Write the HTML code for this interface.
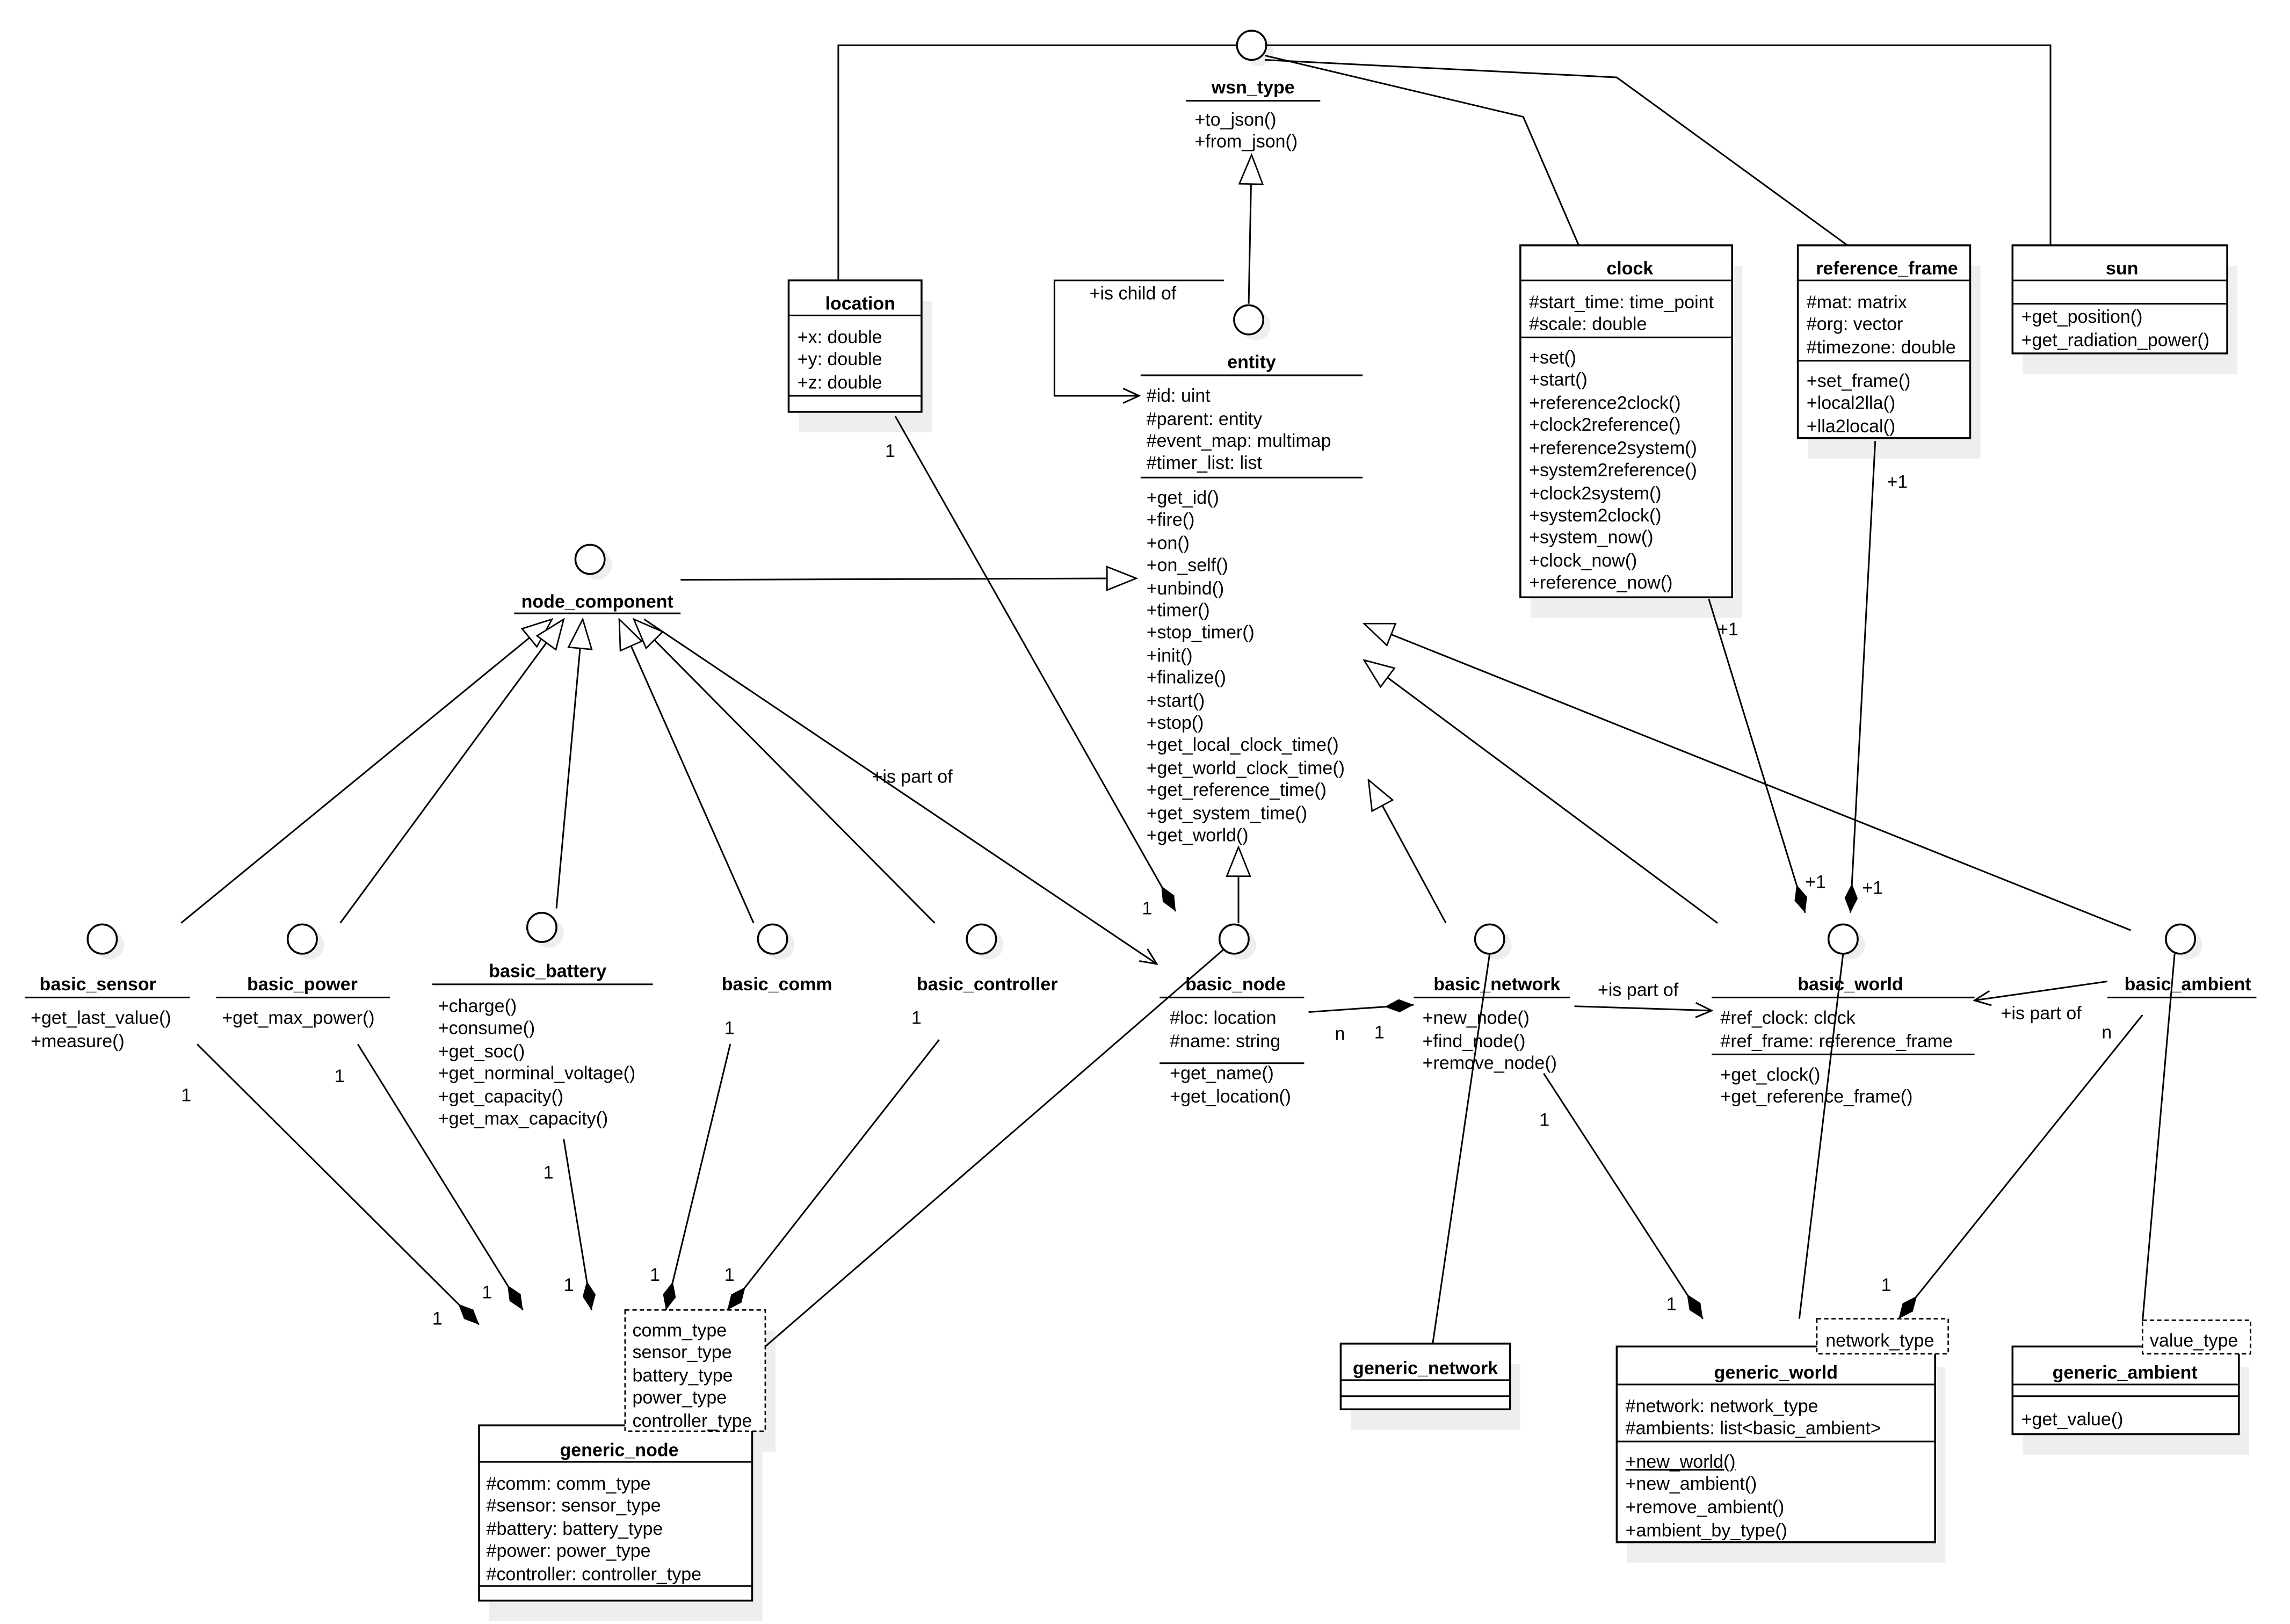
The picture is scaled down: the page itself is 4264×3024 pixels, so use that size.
<!DOCTYPE html>
<html><head><meta charset="utf-8"><style>
html,body{margin:0;padding:0;background:#fff;}
svg{display:block;}
text{font-family:"Liberation Sans",Arial,sans-serif;font-size:12.5px;fill:#000;}
.b{font-weight:bold;text-anchor:middle;}
.l{stroke:#000;stroke-width:1.1;fill:none;}
.box{fill:#fff;stroke:#000;stroke-width:1.3;}
.sh{fill:#eeeeee;}
.dash{fill:#fff;stroke:#000;stroke-width:1;stroke-dasharray:3,2;}
</style></head><body>
<svg width="4264" height="3024" viewBox="0 0 1568 1112" preserveAspectRatio="none" xmlns="http://www.w3.org/2000/svg">
<defs>
<marker id="dm" viewBox="-1 -6 22 12" refX="20" refY="0" markerWidth="22" markerHeight="12" markerUnits="userSpaceOnUse" orient="auto"><path d="M0,0 L10,-4.5 L20,0 L10,4.5 z" fill="#000"/></marker>
<marker id="tr" viewBox="-1 -9 22 18" refX="20" refY="0" markerWidth="22" markerHeight="18" markerUnits="userSpaceOnUse" orient="auto"><path d="M0,-8 L20,0 L0,8 z" fill="#fff" stroke="#000" stroke-width="1"/></marker>
<marker id="ar" viewBox="-1 -6 13 12" refX="11" refY="0" markerWidth="13" markerHeight="12" markerUnits="userSpaceOnUse" orient="auto"><path d="M0,-5 L11,0 L0,5" fill="none" stroke="#000" stroke-width="1.1"/></marker>
</defs>

<!-- shadows -->
<g class="sh">
<rect x="547" y="206" width="91" height="90"/>
<rect x="1048" y="182" width="145" height="241"/>
<rect x="1238" y="182" width="118" height="132"/>
<rect x="1385" y="182" width="147" height="74"/>
<rect x="335" y="990" width="187" height="120"/>
<rect x="435" y="911" width="96" height="83"/>
<rect x="925" y="934" width="116" height="45"/>
<rect x="1114" y="936" width="218" height="134"/>
<rect x="1385" y="936" width="155" height="60"/>
<circle cx="862" cy="35" r="10"/><circle cx="860" cy="223" r="10"/><circle cx="409" cy="387" r="10"/>
<circle cx="75" cy="647" r="10"/><circle cx="212" cy="647" r="10"/><circle cx="376" cy="639" r="10"/><circle cx="534" cy="647" r="10"/><circle cx="677" cy="647" r="10"/><circle cx="850" cy="647" r="10"/><circle cx="1025" cy="647" r="10"/><circle cx="1267" cy="647" r="10"/><circle cx="1498" cy="647" r="10"/>
</g>

<!-- connectors -->
<g class="l">
<polyline points="847,31 574,31 574,192"/>
<polyline points="867,31 1404,31 1404,168"/>
<polyline points="866,38 1043,80 1081,168"/>
<polyline points="866,41 1107,53 1265,168"/>
<line x1="855" y1="208" x2="857" y2="106" marker-end="url(#tr)"/>
<polyline points="838,192 722,192 722,271 780,271" marker-end="url(#ar)"/>
<line x1="466" y1="397" x2="778" y2="396" marker-end="url(#tr)"/>
<line x1="124" y1="632" x2="378" y2="424" marker-end="url(#tr)"/>
<line x1="233" y1="632" x2="386" y2="424" marker-end="url(#tr)"/>
<line x1="381" y1="622" x2="399" y2="424" marker-end="url(#tr)"/>
<line x1="516" y1="632" x2="424" y2="424" marker-end="url(#tr)"/>
<line x1="640" y1="632" x2="434" y2="424" marker-end="url(#tr)"/>
<line x1="441" y1="424" x2="792" y2="660" marker-end="url(#ar)"/>
<line x1="848" y1="632" x2="848" y2="580" marker-end="url(#tr)"/>
<line x1="613" y1="285" x2="805" y2="624" marker-end="url(#dm)"/>
<line x1="990" y1="632" x2="937" y2="534" marker-end="url(#tr)"/>
<line x1="1176" y1="632" x2="934" y2="452" marker-end="url(#tr)"/>
<line x1="1459" y1="637" x2="934" y2="427" marker-end="url(#tr)"/>
<line x1="896" y1="693" x2="968" y2="688" marker-end="url(#dm)"/>
<line x1="1078" y1="689" x2="1172" y2="692" marker-end="url(#ar)"/>
<line x1="1443" y1="672" x2="1352" y2="685" marker-end="url(#ar)"/>
<line x1="1170" y1="410" x2="1236" y2="625" marker-end="url(#dm)"/>
<line x1="1284" y1="302" x2="1267" y2="625" marker-end="url(#dm)"/>
<line x1="1262" y1="653" x2="1232" y2="903"/>
<line x1="1020" y1="653" x2="981" y2="920"/>
<line x1="1489" y1="653" x2="1467" y2="905"/>
<line x1="1467" y1="695" x2="1300" y2="903" marker-end="url(#dm)"/>
<line x1="1057" y1="735" x2="1166" y2="903" marker-end="url(#dm)"/>
<line x1="838" y1="650" x2="524" y2="922"/>
<line x1="135" y1="715" x2="328" y2="907" marker-end="url(#dm)"/>
<line x1="245" y1="715" x2="358" y2="897" marker-end="url(#dm)"/>
<line x1="386" y1="780" x2="405" y2="897" marker-end="url(#dm)"/>
<line x1="500" y1="715" x2="456" y2="897" marker-end="url(#dm)"/>
<line x1="643" y1="712" x2="498" y2="897" marker-end="url(#dm)"/>
</g>

<!-- circles -->
<g fill="#fff" stroke="#000" stroke-width="1.3">
<circle cx="857" cy="31" r="10"/><circle cx="855" cy="219" r="10"/><circle cx="404" cy="383" r="10"/>
<circle cx="70" cy="643" r="10"/><circle cx="207" cy="643" r="10"/><circle cx="371" cy="635" r="10"/><circle cx="529" cy="643" r="10"/><circle cx="672" cy="643" r="10"/><circle cx="845" cy="643" r="10"/><circle cx="1020" cy="643" r="10"/><circle cx="1262" cy="643" r="10"/><circle cx="1493" cy="643" r="10"/>
</g>

<!-- interfaces -->
<text class="b" x="858" y="64">wsn_type</text><line class="l" x1="812" y1="69" x2="904" y2="69"/>
<text x="818" y="86">+to_json()</text><text x="818" y="101">+from_json()</text>

<text x="746" y="205">+is child of</text>
<text class="b" x="857" y="252">entity</text><line class="l" x1="781" y1="257" x2="933" y2="257"/>
<g>
<text x="785" y="275">#id: uint</text><text x="785" y="291">#parent: entity</text><text x="785" y="306">#event_map: multimap</text><text x="785" y="321">#timer_list: list</text>
</g>
<line class="l" x1="781" y1="327" x2="933" y2="327"/>
<g>
<text x="785" y="345">+get_id()</text><text x="785" y="360">+fire()</text><text x="785" y="376">+on()</text><text x="785" y="391">+on_self()</text><text x="785" y="407">+unbind()</text><text x="785" y="422">+timer()</text><text x="785" y="437">+stop_timer()</text><text x="785" y="453">+init()</text><text x="785" y="468">+finalize()</text><text x="785" y="484">+start()</text><text x="785" y="499">+stop()</text><text x="785" y="514">+get_local_clock_time()</text><text x="785" y="530">+get_world_clock_time()</text><text x="785" y="545">+get_reference_time()</text><text x="785" y="561">+get_system_time()</text><text x="785" y="576">+get_world()</text>
</g>

<text class="b" x="409" y="416">node_component</text><line class="l" x1="352" y1="420" x2="466" y2="420"/>
<text x="597" y="536">+is part of</text>

<text class="b" x="67" y="678">basic_sensor</text><line class="l" x1="17" y1="683" x2="130" y2="683"/>
<text x="21" y="701">+get_last_value()</text><text x="21" y="717">+measure()</text>
<text class="b" x="207" y="678">basic_power</text><line class="l" x1="148" y1="683" x2="267" y2="683"/>
<text x="152" y="701">+get_max_power()</text>
<text class="b" x="375" y="669">basic_battery</text><line class="l" x1="296" y1="674" x2="447" y2="674"/>
<text x="300" y="693">+charge()</text><text x="300" y="708">+consume()</text><text x="300" y="724">+get_soc()</text><text x="300" y="739">+get_norminal_voltage()</text><text x="300" y="755">+get_capacity()</text><text x="300" y="770">+get_max_capacity()</text>
<text class="b" x="532" y="678">basic_comm</text>
<text class="b" x="676" y="678">basic_controller</text>
<text class="b" x="846" y="678">basic_node</text><line class="l" x1="794" y1="683" x2="893" y2="683"/>
<text x="801" y="701">#loc: location</text><text x="801" y="717">#name: string</text>
<line class="l" x1="794" y1="728" x2="893" y2="728"/>
<text x="801" y="739">+get_name()</text><text x="801" y="755">+get_location()</text>

<text class="b" x="1025" y="678">basic_network</text><line class="l" x1="968" y1="683" x2="1075" y2="683"/>
<text x="974" y="701">+new_node()</text><text x="974" y="717">+find_node()</text><text x="974" y="732">+remove_node()</text>
<text x="1094" y="682">+is part of</text>

<text class="b" x="1267" y="678">basic_world</text><line class="l" x1="1172" y1="683" x2="1352" y2="683"/>
<text x="1178" y="701">#ref_clock: clock</text><text x="1178" y="717">#ref_frame: reference_frame</text>
<line class="l" x1="1172" y1="722" x2="1352" y2="722"/>
<text x="1178" y="740">+get_clock()</text><text x="1178" y="755">+get_reference_frame()</text>

<text class="b" x="1498" y="678">basic_ambient</text><line class="l" x1="1443" y1="683" x2="1545" y2="683"/>
<text x="1370" y="698">+is part of</text>

<!-- multiplicities -->
<g>
<text x="606" y="313">1</text><text x="782" y="626">1</text>
<text x="914" y="712">n</text><text x="941" y="711">1</text>
<text x="1176" y="435">+1</text><text x="1236" y="608">+1</text>
<text x="1292" y="334">+1</text><text x="1275" y="612">+1</text>
<text x="1439" y="711">n</text><text x="1288" y="884">1</text>
<text x="1054" y="771">1</text><text x="1141" y="897">1</text>
<text x="124" y="754">1</text><text x="296" y="907">1</text>
<text x="229" y="741">1</text><text x="330" y="889">1</text>
<text x="372" y="807">1</text><text x="386" y="884">1</text>
<text x="496" y="708">1</text><text x="445" y="877">1</text>
<text x="624" y="701">1</text><text x="496" y="877">1</text>
</g>

<!-- classes -->
<rect class="box" x="540" y="192" width="91" height="90"/>
<text class="b" x="589" y="212">location</text>
<line class="l" x1="540" y1="216" x2="631" y2="216"/>
<text x="546" y="235">+x: double</text><text x="546" y="250">+y: double</text><text x="546" y="266">+z: double</text>
<line class="l" x1="540" y1="271" x2="631" y2="271"/>

<rect class="box" x="1041" y="168" width="145" height="241"/>
<text class="b" x="1116" y="188">clock</text>
<line class="l" x1="1041" y1="192" x2="1186" y2="192"/>
<text x="1047" y="211">#start_time: time_point</text><text x="1047" y="226">#scale: double</text>
<line class="l" x1="1041" y1="231" x2="1186" y2="231"/>
<g><text x="1047" y="249">+set()</text><text x="1047" y="264">+start()</text><text x="1047" y="280">+reference2clock()</text><text x="1047" y="295">+clock2reference()</text><text x="1047" y="311">+reference2system()</text><text x="1047" y="326">+system2reference()</text><text x="1047" y="342">+clock2system()</text><text x="1047" y="357">+system2clock()</text><text x="1047" y="372">+system_now()</text><text x="1047" y="388">+clock_now()</text><text x="1047" y="403">+reference_now()</text></g>

<rect class="box" x="1231" y="168" width="118" height="132"/>
<text class="b" x="1292" y="188">reference_frame</text>
<line class="l" x1="1231" y1="192" x2="1349" y2="192"/>
<text x="1237" y="211">#mat: matrix</text><text x="1237" y="226">#org: vector</text><text x="1237" y="242">#timezone: double</text>
<line class="l" x1="1231" y1="247" x2="1349" y2="247"/>
<text x="1237" y="265">+set_frame()</text><text x="1237" y="280">+local2lla()</text><text x="1237" y="296">+lla2local()</text>

<rect class="box" x="1378" y="168" width="147" height="74"/>
<text class="b" x="1453" y="188">sun</text>
<line class="l" x1="1378" y1="192" x2="1525" y2="192"/>
<line class="l" x1="1378" y1="208" x2="1525" y2="208"/>
<text x="1384" y="221">+get_position()</text><text x="1384" y="237">+get_radiation_power()</text>

<rect class="box" x="328" y="976" width="187" height="120"/>
<text class="b" x="424" y="997">generic_node</text>
<line class="l" x1="328" y1="1001" x2="515" y2="1001"/>
<text x="333" y="1020">#comm: comm_type</text><text x="333" y="1035">#sensor: sensor_type</text><text x="333" y="1051">#battery: battery_type</text><text x="333" y="1066">#power: power_type</text><text x="333" y="1082">#controller: controller_type</text>
<line class="l" x1="328" y1="1086" x2="515" y2="1086"/>
<rect class="dash" x="428" y="897" width="96" height="83"/>
<text x="433" y="915">comm_type</text><text x="433" y="930">sensor_type</text><text x="433" y="946">battery_type</text><text x="433" y="961">power_type</text><text x="433" y="977">controller_type</text>

<rect class="box" x="918" y="920" width="116" height="45"/>
<text class="b" x="976" y="941">generic_network</text>
<line class="l" x1="918" y1="945" x2="1034" y2="945"/>
<line class="l" x1="918" y1="956" x2="1034" y2="956"/>

<rect class="box" x="1107" y="922" width="218" height="134"/>
<text class="b" x="1216" y="944">generic_world</text>
<line class="l" x1="1107" y1="948" x2="1325" y2="948"/>
<text x="1113" y="967">#network: network_type</text><text x="1113" y="982">#ambients: list&lt;basic_ambient&gt;</text>
<line class="l" x1="1107" y1="987" x2="1325" y2="987"/>
<text x="1113" y="1005" text-decoration="underline">+new_world()</text><text x="1113" y="1020">+new_ambient()</text><text x="1113" y="1036">+remove_ambient()</text><text x="1113" y="1052">+ambient_by_type()</text>
<rect class="dash" x="1244" y="903" width="90" height="24"/>
<text x="1250" y="922">network_type</text>

<rect class="box" x="1378" y="922" width="155" height="60"/>
<text class="b" x="1455" y="944">generic_ambient</text>
<line class="l" x1="1378" y1="948" x2="1533" y2="948"/>
<line class="l" x1="1378" y1="956" x2="1533" y2="956"/>
<text x="1384" y="976">+get_value()</text>
<rect class="dash" x="1467" y="904" width="74" height="23"/>
<text x="1472" y="922">value_type</text>
</svg>
</body></html>
